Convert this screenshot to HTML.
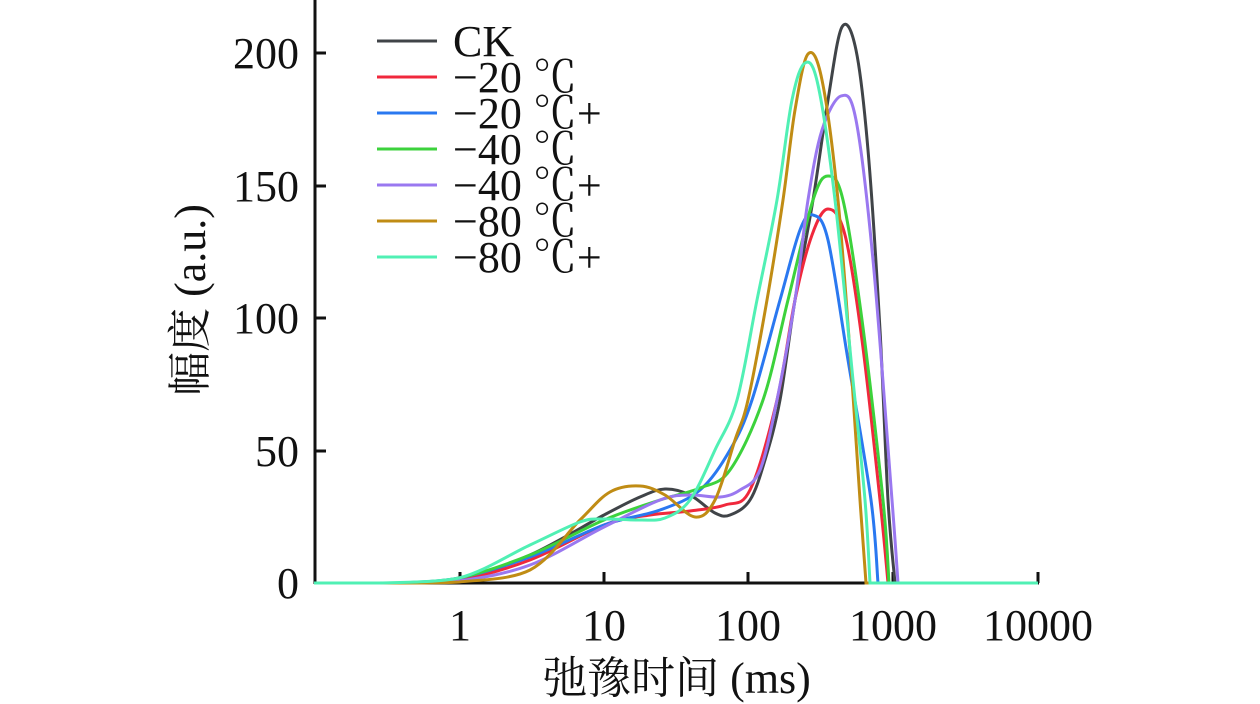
<!DOCTYPE html>
<html><head><meta charset="utf-8"><style>body{margin:0;background:#fff}svg{display:block}text{font-family:"Liberation Serif","Noto Serif CJK SC",serif;fill:#111}</style></head><body>
<svg width="1260" height="704" viewBox="0 0 1260 704" xmlns="http://www.w3.org/2000/svg">
<g stroke="#111" stroke-width="3" fill="none">
<line x1="315" y1="0" x2="315" y2="584"/>
<line x1="314" y1="583" x2="1039" y2="583"/>
<line x1="315" y1="53" x2="326" y2="53"/><line x1="315" y1="186" x2="326" y2="186"/><line x1="315" y1="318" x2="326" y2="318"/><line x1="315" y1="451" x2="326" y2="451"/>
<line x1="460" y1="583" x2="460" y2="572"/><line x1="604" y1="583" x2="604" y2="572"/><line x1="748" y1="583" x2="748" y2="572"/><line x1="893" y1="583" x2="893" y2="572"/><line x1="1038" y1="583" x2="1038" y2="572"/>
</g>
<g font-size="44" text-anchor="end">
<text x="299" y="68">200</text><text x="299" y="201">150</text><text x="299" y="333">100</text><text x="299" y="466">50</text><text x="299" y="598">0</text>
</g>
<g font-size="44" text-anchor="middle">
<text x="460" y="640">1</text><text x="604" y="640">10</text><text x="748" y="640">100</text><text x="893" y="640">1000</text><text x="1038" y="640">10000</text>
</g>
<text x="677" y="693" font-size="44" text-anchor="middle">弛豫时间 (ms)</text>
<text transform="translate(205,300) rotate(-90)" font-size="44" text-anchor="middle">幅度 (a.u.)</text>
<g font-size="44">
<line x1="377" y1="41" x2="437" y2="41" stroke="#404448" stroke-width="3"/><text x="453" y="56">CK</text>
<line x1="377" y1="77" x2="437" y2="77" stroke="#f0283c" stroke-width="3"/><text x="453" y="92">−20 ℃</text>
<line x1="377" y1="113" x2="437" y2="113" stroke="#2a78f0" stroke-width="3"/><text x="453" y="128">−20 ℃+</text>
<line x1="377" y1="149" x2="437" y2="149" stroke="#3cd23c" stroke-width="3"/><text x="453" y="164">−40 ℃</text>
<line x1="377" y1="185" x2="437" y2="185" stroke="#9a78f0" stroke-width="3"/><text x="453" y="200">−40 ℃+</text>
<line x1="377" y1="221" x2="437" y2="221" stroke="#c08c14" stroke-width="3"/><text x="453" y="236">−80 ℃</text>
<line x1="377" y1="257" x2="437" y2="257" stroke="#50f0b4" stroke-width="3"/><text x="453" y="272">−80 ℃+</text>
</g>
<path id="p0" fill="none" stroke="#404448" stroke-width="3"/>
<path id="p1" fill="none" stroke="#f0283c" stroke-width="3"/>
<path id="p2" fill="none" stroke="#2a78f0" stroke-width="3"/>
<path id="p3" fill="none" stroke="#3cd23c" stroke-width="3"/>
<path id="p4" fill="none" stroke="#9a78f0" stroke-width="3"/>
<path id="p5" fill="none" stroke="#c08c14" stroke-width="3"/>
<path id="p6" fill="none" stroke="#50f0b4" stroke-width="3"/>
</svg>
<script>
var S=[
[[400,583],[459,580],[530,555],[604,515],[640,497],[665,489],[690,495],[715,513],[730,515],[750,500],[765,460],[780,400],[795,300],[813,200],[828,100],[842,27],[856,50],[868,150],[880,330],[888,500],[895,583]],
[[400,583],[459,580],[530,560],[604,525],[650,515],[690,511],[725,505],[750,490],[777,400],[795,300],[812,235],[828,209],[845,235],[862,340],[880,500],[888,583]],
[[400,583],[459,578],[530,557],[604,525],[660,510],[700,490],[730,450],[752,400],[780,300],[800,230],[813,215],[828,240],[848,360],[871,500],[878,583]],
[[400,583],[459,578],[530,555],[604,520],[660,500],[700,488],[730,470],[763,400],[788,300],[813,200],[828,176],[843,200],[862,320],[883,500],[889,583]],
[[400,583],[459,581],[530,565],[604,527],[660,500],[690,495],[720,497],[740,490],[760,470],[777,400],[795,300],[808,200],[822,130],[841,96],[856,120],[873,260],[892,500],[898,583]],
[[420,583],[459,582],[530,570],[580,520],[610,492],[640,486],[665,495],[695,517],[715,500],[735,440],[748,400],[767,300],[783,200],[795,110],[808,54],[822,80],[838,200],[852,380],[860,500],[866,583]],
[[380,583],[459,578],[530,545],[580,522],[604,519],[640,520],[665,518],[690,500],[715,450],[737,400],[757,300],[777,200],[792,100],[805,63],[818,85],[835,200],[853,380],[865,500],[870,583]]];
S.forEach(function(p,k){var d="M314,583 L"+p[0][0]+","+p[0][1];
for(var i=0;i<p.length-1;i++){var a=p[Math.max(i-1,0)],b=p[i],c=p[i+1],e=p[Math.min(i+2,p.length-1)];
d+=" C"+(b[0]+(c[0]-a[0])/6).toFixed(1)+","+Math.min(583,b[1]+(c[1]-a[1])/6).toFixed(1)+" "+(c[0]-(e[0]-b[0])/6).toFixed(1)+","+Math.min(583,c[1]-(e[1]-b[1])/6).toFixed(1)+" "+c[0]+","+c[1];}
d+=" L1038,583";document.getElementById("p"+k).setAttribute("d",d);});
</script>
</body></html>
